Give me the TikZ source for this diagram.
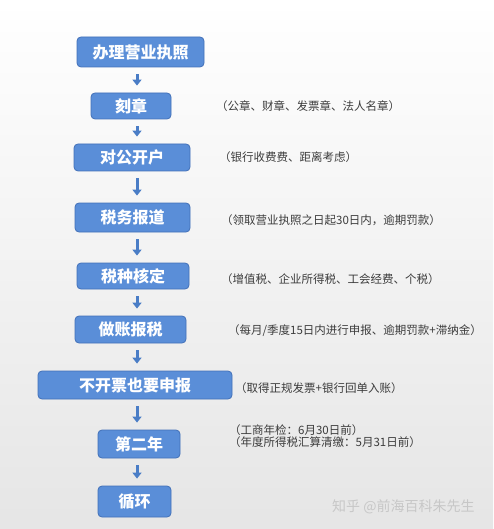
\documentclass[tikz,border=0pt]{standalone}
\usepackage{fontspec}
\setmainfont{Noto Sans CJK SC}
\usetikzlibrary{arrows.meta}
\definecolor{stepblue}{HTML}{5A8ED8}
\definecolor{stepedge}{HTML}{4270B8}
\definecolor{arrowblue}{HTML}{4A7DC6}
\definecolor{notegray}{HTML}{3C3C3C}
\begin{document}
\begin{tikzpicture}[x=1pt,y=-1pt]
\tikzset{stepbox/.style={draw=stepedge,fill=stepblue,rounded corners=4pt,line width=0.8pt,
    text=white,font=\fontsize{16}{18}\selectfont\bfseries,inner sep=0pt}}
\tikzset{note/.style={anchor=west,inner sep=0pt,text=notegray,font=\fontsize{11.5}{12.5}\selectfont}}
\tikzset{flow/.style={draw=arrowblue,line width=3pt,-{Triangle[width=9pt,length=6pt]},
    shorten <=7pt,shorten >=7pt}}
%\tikzset{flow/.style={draw=arrowblue,->,thick}}
\shade[top color=white,bottom color=black!10] (0,0) rectangle (493,529);
\useasboundingbox (0,0) rectangle (493,529);
\node[stepbox,minimum width=127pt,minimum height=30pt] (licence) at (140.5,52) {办理营业执照};
\node[stepbox,minimum width=80pt,minimum height=26pt] (seal) at (131,106) {刻章};
\node[stepbox,minimum width=116pt,minimum height=27pt] (account) at (132,157.5) {对公开户};
\node[stepbox,minimum width=115pt,minimum height=29pt] (taxreg) at (132.5,217.5) {税务报道};
\node[stepbox,minimum width=112pt,minimum height=26pt] (taxtype) at (133,276) {税种核定};
\node[stepbox,minimum width=111pt,minimum height=27pt] (books) at (130.5,329.5) {做账报税};
\node[stepbox,minimum width=194pt,minimum height=28pt] (zero) at (135,385) {不开票也要申报};
\node[stepbox,minimum width=82pt,minimum height=28pt] (second) at (139,444) {第二年};
\node[stepbox,minimum width=73pt,minimum height=31pt] (loop) at (134.5,501.5) {循环};
\coordinate (axis) at (137,0);
\foreach \a/\b in {licence/seal,seal/account,account/taxreg,taxreg/taxtype,
    taxtype/books,books/zero,zero/second,second/loop}
    \draw[flow] (\a.south -| axis) -- (\b.north -| axis);
\node[note] (n-seal) at (216,106) {（公章、财章、发票章、法人名章）};
\node[note] (n-account) at (219,157) {（银行收费费、距离考虑）};
\node[note] (n-taxreg) at (221,220) {（领取营业执照之日起30日内，逾期罚款）};
\node[note] (n-taxtype) at (221,279) {（增值税、企业所得税、工会经费、个税）};
\node[note] (n-books) at (228,331) {（每月/季度15日内进行申报、逾期罚款+滞纳金）};
\node[note] (n-zero) at (235,388) {（取得正规发票+银行回单入账）};
\node[note,align=left] (n-second) at (229,436) {（工商年检：6月30日前）\\（年度所得税汇算清缴：5月31日前）};
\node[anchor=west,inner sep=0pt,text=black!22,font=\fontsize{14}{16}\selectfont] (mark) at (332,507) {知乎 @前海百科朱先生};
\end{tikzpicture}
\end{document}
